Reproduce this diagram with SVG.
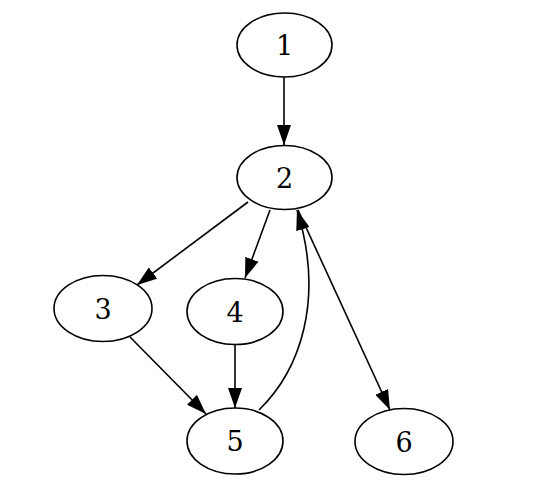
<svg xmlns="http://www.w3.org/2000/svg" width="537" height="494" viewBox="0 0 537 494">
<style>
.node ellipse{fill:none;stroke:#000;stroke-width:1.6}
.node text{font-family:"DejaVu Serif","Liberation Serif",serif;font-size:27px;text-anchor:middle;fill:#000}
.edge{fill:none;stroke:#000;stroke-width:1.6;marker-end:url(#arrow)}
</style>
<defs>
<marker id="arrow" viewBox="0 0 20 14" refX="20" refY="7" markerWidth="20" markerHeight="14" markerUnits="userSpaceOnUse" orient="auto">
<path d="M0,0 L20,7 L0,14 z" fill="#000"/>
</marker>
</defs>
<rect width="537" height="494" fill="#fff"/>
<g id="edges">
<path class="edge" d="M284,77 L284,145"/>
<path class="edge" d="M248,202 L137,285"/>
<path class="edge" d="M270,210 L245,278"/>
<path class="edge" d="M298,210 L390,410"/>
<path class="edge" d="M259,410 C300,370 325,300 297,210"/>
<path class="edge" d="M130,337 L206,414"/>
<path class="edge" d="M235,345 L235,408"/>
</g>
<g id="node1" class="node"><ellipse cx="284.5" cy="45" rx="47.5" ry="32"/><text x="284.5" y="55">1</text></g>
<g id="node2" class="node"><ellipse cx="284.5" cy="177.5" rx="47.5" ry="32"/><text x="284.5" y="187.5">2</text></g>
<g id="node3" class="node"><ellipse cx="103" cy="308.5" rx="49" ry="33"/><text x="103" y="318.5">3</text></g>
<g id="node4" class="node"><ellipse cx="235" cy="311.5" rx="48" ry="33"/><text x="235" y="321.5">4</text></g>
<g id="node5" class="node"><ellipse cx="235" cy="441" rx="48" ry="33"/><text x="235" y="451">5</text></g>
<g id="node6" class="node"><ellipse cx="404" cy="441.5" rx="49" ry="33"/><text x="404" y="451.5">6</text></g>
</svg>
